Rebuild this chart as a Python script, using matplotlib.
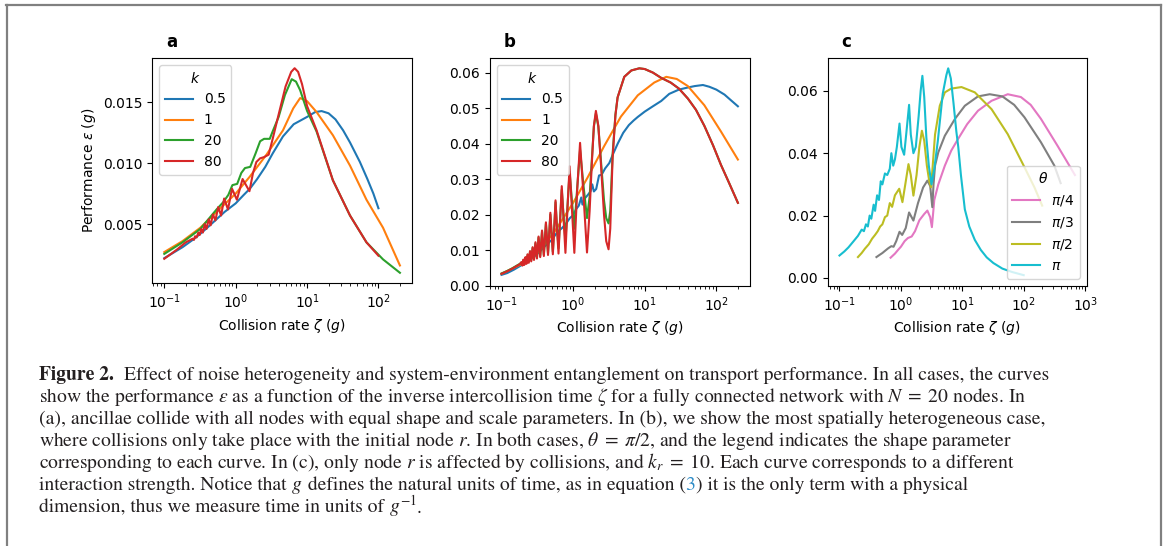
import matplotlib
matplotlib.use("Agg")
import matplotlib.pyplot as plt
from matplotlib.lines import Line2D

W, H = 1163, 546

# ---- panel a: all nodes collide, theta = pi/2 ----
A_BLUE_X = [0.1, 0.13, 0.18, 0.25, 0.32, 0.4, 0.54, 0.7, 1.0, 1.3, 1.58, 2.0, 2.6, 3.3, 4.6, 6.5,
            10, 13, 16, 20, 25, 32, 40, 55, 70, 85, 100]
A_BLUE_Y = [0.0022, 0.0026, 0.0031, 0.0037, 0.0042, 0.0047, 0.0054, 0.0060, 0.0067, 0.0074, 0.0079,
            0.0087, 0.0097, 0.0108, 0.0122, 0.0132, 0.0138, 0.0142, 0.01428, 0.0141, 0.0136, 0.0127,
            0.0117, 0.0101, 0.0087, 0.0075, 0.0063]
A_ORANGE_X = [0.1, 0.18, 0.32, 0.54, 1.0, 1.58, 2.7, 4.6, 6.4, 8.0, 10, 13.6, 23, 40, 68, 116, 200]
A_ORANGE_Y = [0.0027, 0.0036, 0.0047, 0.0060, 0.0075, 0.0089, 0.0107, 0.0127, 0.0145, 0.01535,
              0.0151, 0.0142, 0.0123, 0.0098, 0.0070, 0.0047, 0.0016]
A_GREEN_X = [0.1, 0.18, 0.32, 0.54, 0.67, 0.79, 0.9, 1.05, 1.2, 1.35, 1.6, 1.9, 2.2, 2.5, 3.0, 3.4,
             4.0, 4.9, 6.1, 7, 8, 10, 13.6, 23, 40, 68, 116, 200]
A_GREEN_Y = [0.00255, 0.0035, 0.0046, 0.0062, 0.0068, 0.0074, 0.0082, 0.0083, 0.0092, 0.0096,
             0.0097, 0.0108, 0.0118, 0.0120, 0.0120, 0.0128, 0.0138, 0.0156, 0.0169, 0.0167, 0.0160,
             0.0143, 0.0126, 0.0086, 0.0057, 0.0035, 0.0021, 0.0010]
A_RED_X = [0.1, 0.15, 0.2, 0.25, 0.26, 0.27, 0.284, 0.30, 0.3125, 0.33, 0.347, 0.37, 0.39, 0.42,
           0.446, 0.48, 0.52, 0.57, 0.625, 0.69, 0.78, 0.89, 1.04, 1.25, 1.56, 1.75, 1.95, 2.2,
           2.5, 2.9, 3.3, 4.0, 5.0, 6.0, 6.7, 7.5, 8.5, 10, 13.6, 23, 40, 68, 100]
A_RED_Y = [0.00215, 0.0029, 0.0035, 0.0038, 0.0037, 0.0040, 0.0039, 0.0043, 0.0041, 0.0046,
           0.0043, 0.0050, 0.0046, 0.0054, 0.0049, 0.0058, 0.0053, 0.0064, 0.0057, 0.0071, 0.0062,
           0.0079, 0.0070, 0.0087, 0.0077, 0.0092, 0.0101, 0.0104, 0.0105, 0.0107, 0.0120, 0.0140,
           0.0163, 0.0175, 0.0178, 0.0175, 0.0165, 0.0147, 0.0127, 0.0086, 0.0057, 0.0035, 0.0024]

# ---- panel b: collisions only at node r ----
B_BLUE_X = [0.1, 0.12, 0.15, 0.2, 0.25, 0.3, 0.35, 0.4, 0.5, 0.6, 0.7, 0.8, 0.9, 1.0, 1.1, 1.2,
            1.3, 1.35, 1.45, 1.6, 1.75, 1.85, 1.95, 2.1, 2.3, 2.5, 2.8, 3.2, 3.6, 4.2, 5, 6, 7, 8,
            10, 13, 17, 22, 30, 40, 50, 65, 80, 100, 130, 160, 200]
B_BLUE_Y = [0.0030, 0.0035, 0.0045, 0.0060, 0.0075, 0.0085, 0.0098, 0.0110, 0.0128, 0.0150,
            0.0162, 0.0175, 0.0190, 0.0198, 0.0215, 0.0225, 0.0248, 0.0228, 0.0245, 0.0255, 0.0265,
            0.0285, 0.0265, 0.0272, 0.0310, 0.0312, 0.0330, 0.0345, 0.0370, 0.0400, 0.0430, 0.0452,
            0.0465, 0.0475, 0.0490, 0.0505, 0.0520, 0.0540, 0.0552, 0.0558, 0.0562, 0.0565, 0.0560,
            0.0552, 0.0538, 0.0522, 0.0505]
B_ORANGE_X = [0.1, 0.18, 0.32, 0.54, 1.0, 1.58, 2.7, 4.65, 8.0, 13.6, 20, 28, 40, 68, 116, 200]
B_ORANGE_Y = [0.0033, 0.0058, 0.0093, 0.0149, 0.0233, 0.0303, 0.0392, 0.0476, 0.0536, 0.0572,
              0.0588, 0.0582, 0.0562, 0.0508, 0.0434, 0.0355]
B_OSC_X = [0.1, 0.12, 0.14, 0.16, 0.18, 0.19, 0.196, 0.202, 0.208, 0.216, 0.223, 0.231, 0.24,
           0.25, 0.26, 0.272, 0.284, 0.298, 0.3125, 0.329, 0.347, 0.368, 0.39, 0.417, 0.446, 0.481,
           0.521, 0.545, 0.568, 0.595, 0.625, 0.66, 0.694, 0.735, 0.781, 0.835, 0.893, 0.96, 1.04,
           1.14, 1.25, 1.39, 1.5625, 1.7, 1.82, 1.95, 2.08, 2.25, 2.45, 2.7, 2.9, 3.125, 3.3, 3.56,
           3.9, 4.18, 5.18, 6.5, 8.4, 10, 13, 17, 23, 30, 40, 52, 68, 90, 116, 150, 200]
B_RED_Y = [0.0033, 0.0040, 0.0047, 0.0054, 0.0060, 0.0066, 0.0056, 0.0073, 0.0058, 0.0080, 0.0061,
           0.0088, 0.0064, 0.0097, 0.0068, 0.0108, 0.0072, 0.0122, 0.0076, 0.0138, 0.0080, 0.0155,
           0.0083, 0.0178, 0.0086, 0.0205, 0.0088, 0.0160, 0.0240, 0.0160, 0.0090, 0.0190, 0.0280,
           0.0190, 0.0092, 0.0220, 0.0336, 0.0220, 0.0092, 0.0270, 0.0402, 0.0260, 0.0093, 0.0210,
           0.0340, 0.0450, 0.0492, 0.0450, 0.0340, 0.0200, 0.0125, 0.0102, 0.0160, 0.0360, 0.0480,
           0.0530, 0.0588, 0.0606, 0.0612, 0.0610, 0.0600, 0.0585, 0.0572, 0.0555, 0.0527, 0.0495,
           0.0450, 0.0395, 0.0340, 0.0290, 0.0233]
B_GREEN_Y = [0.0034, 0.0041, 0.0048, 0.0055, 0.0061, 0.0065, 0.0059, 0.0071, 0.0061, 0.0078,
             0.0064, 0.0086, 0.0067, 0.0095, 0.0071, 0.0106, 0.0075, 0.0119, 0.0079, 0.0135, 0.0083,
             0.0152, 0.0087, 0.0174, 0.0091, 0.0200, 0.0095, 0.0165, 0.0235, 0.0165, 0.0105, 0.0190,
             0.0270, 0.0195, 0.0125, 0.0225, 0.0320, 0.0240, 0.0160, 0.0275, 0.0382, 0.0285, 0.0190,
             0.0250, 0.0350, 0.0448, 0.0485, 0.0448, 0.0350, 0.0240, 0.0190, 0.0175, 0.0210, 0.0370,
             0.0482, 0.0530, 0.0588, 0.0606, 0.0612, 0.0610, 0.0600, 0.0585, 0.0572, 0.0555, 0.0527,
             0.0495, 0.0450, 0.0395, 0.0340, 0.0290, 0.0233]

# ---- panel c: only node r, k_r = 10, different theta ----
C_PINK_X = [0.68, 0.8, 0.9, 1.0, 1.15, 1.3, 1.5, 1.7, 2.0, 2.4, 2.7, 3.0, 3.2, 3.5, 4.07, 5.2,
            6.6, 8.5, 12, 18, 30, 55, 90, 130, 191, 355, 500, 683]
C_PINK_Y = [0.0065, 0.0078, 0.0090, 0.0100, 0.0118, 0.0128, 0.0133, 0.0150, 0.0185, 0.0205,
            0.0216, 0.0195, 0.0163, 0.0250, 0.0300, 0.0360, 0.0408, 0.0445, 0.0493, 0.0536,
            0.0568, 0.0589, 0.0580, 0.0555, 0.0510, 0.0424, 0.0375, 0.0330]
C_GRAY_X = [0.4, 0.45, 0.5, 0.56, 0.62, 0.7, 0.76, 0.84, 0.95, 1.05, 1.2, 1.36, 1.6, 1.9, 2.3,
            2.7, 3.0, 3.25, 3.4, 3.6, 4.07, 5.2, 7.6, 11, 18, 28, 45, 70, 103, 191, 316, 400]
C_GRAY_Y = [0.0067, 0.0074, 0.0080, 0.0088, 0.0095, 0.0102, 0.0100, 0.0118, 0.0148, 0.0138,
            0.0160, 0.0210, 0.0184, 0.0240, 0.0290, 0.0312, 0.0295, 0.0227, 0.0300, 0.0360,
            0.0403, 0.0456, 0.0510, 0.0552, 0.0582, 0.0589, 0.0582, 0.0555, 0.0515, 0.0435,
            0.0360, 0.0304]
C_OLIVE_X = [0.2, 0.23, 0.26, 0.30, 0.34, 0.38, 0.42, 0.46, 0.50, 0.55, 0.60, 0.66, 0.72, 0.80,
             0.94, 1.06, 1.18, 1.33, 1.45, 1.6, 1.8, 2.0, 2.2, 2.4, 2.65, 2.9, 3.1, 3.3, 3.6, 4.3,
             5.2, 6.6, 9.7, 16, 30, 55, 103, 150, 200]
C_OLIVE_Y = [0.0067, 0.0080, 0.0094, 0.0108, 0.0126, 0.0138, 0.0150, 0.0165, 0.0172, 0.0195,
             0.0200, 0.0240, 0.0228, 0.0265, 0.0286, 0.0243, 0.0300, 0.0365, 0.0330, 0.0264,
             0.0330, 0.0420, 0.0472, 0.0440, 0.0360, 0.0310, 0.0291, 0.0360, 0.0460, 0.0552,
             0.0595, 0.0607, 0.0612, 0.0595, 0.0541, 0.0461, 0.0355, 0.0290, 0.0232]
C_CYAN_X = [0.10, 0.12, 0.14, 0.17, 0.20, 0.23, 0.25, 0.27, 0.29, 0.31, 0.33, 0.36, 0.38, 0.41,
            0.44, 0.47, 0.50, 0.55, 0.60, 0.66, 0.70, 0.75, 0.80, 0.86, 0.95, 1.02, 1.13, 1.22,
            1.36, 1.45, 1.6, 1.75, 1.95, 2.1, 2.24, 2.4, 2.6, 2.85, 3.15, 3.5, 4.0, 4.8, 5.5, 5.9,
            6.5, 7.2, 8.0, 8.6, 9.5, 11, 13, 16, 20, 25, 32, 45, 65, 100]
C_CYAN_Y = [0.0072, 0.0085, 0.0098, 0.0118, 0.0135, 0.0155, 0.0150, 0.0172, 0.0165, 0.0200,
            0.0190, 0.0235, 0.0215, 0.0265, 0.0250, 0.0310, 0.0300, 0.0335, 0.0330, 0.0350,
            0.0400, 0.0360, 0.0380, 0.0420, 0.0495, 0.0420, 0.0395, 0.0460, 0.0555, 0.0460,
            0.0400, 0.0420, 0.0520, 0.0600, 0.0648, 0.0580, 0.0450, 0.0360, 0.0300, 0.0350,
            0.0440, 0.0590, 0.0650, 0.0672, 0.0640, 0.0560, 0.0470, 0.0420, 0.0330, 0.0220,
            0.0165, 0.0122, 0.0090, 0.0066, 0.0048, 0.0030, 0.0019, 0.0009]

K_LABELS = ["0.5", "1", "20", "80"]
THETA_LABELS = [r"$\pi/4$", r"$\pi/3$", r"$\pi/2$", r"$\pi$"]
K_COLORS = ["tab:blue", "tab:orange", "tab:green", "tab:red"]
THETA_COLORS = ["tab:pink", "tab:gray", "tab:olive", "tab:cyan"]

CAPTION = [
    [("Figure 2.", "bold"), 10, ("Effect of noise heterogeneity and system-environment entanglement "
                                 "on transport performance. In all cases, the curves", None)],
    [(r"show the performance $\varepsilon$ as a function of the inverse intercollision time $\zeta$ "
      r"for a fully connected network with $N\;=\;20$ nodes. In", None)],
    [("(a), ancillae collide with all nodes with equal shape and scale parameters. In (b), we show "
      "the most spatially heterogeneous case,", None)],
    [(r"where collisions only take place with the initial node $r$. In both cases, $\theta\;=\;\pi/2$, "
      r"and the legend indicates the shape parameter", None)],
    [(r"corresponding to each curve. In (c), only node $r$ is affected by collisions, and $k_r\;=\;10$. "
      r"Each curve corresponds to a different", None)],
    [("interaction strength. Notice that", None), 4.9, (r"$g$", None),
     (" defines the natural units of time, as in equation (", None),
     ("3", "link"), (") it is the only term with a physical", None)],
    [("dimension, thus we measure time in units of", None), 4.9, (r"$g^{-1}$", None), (".", None)],
]


def add_px_axes(fig, left, top, right, bottom):
    return fig.add_axes([left / W, 1 - bottom / H, (right - left) / W, (bottom - top) / H])


fig = plt.figure(figsize=(W / 100, H / 100), dpi=100)

ax_a = add_px_axes(fig, 152.5, 58, 411.7, 283)
ax_b = add_px_axes(fig, 489.7, 58, 749.7, 285.5)
ax_c = add_px_axes(fig, 827.7, 58, 1086.7, 285.5)

a_series = [(A_BLUE_X, A_BLUE_Y), (A_ORANGE_X, A_ORANGE_Y), (A_GREEN_X, A_GREEN_Y), (A_RED_X, A_RED_Y)]
for (xs, ys), lbl, col in zip(a_series, K_LABELS, K_COLORS):
    ax_a.plot(xs, ys, color=col, label=lbl)

b_series = [(B_BLUE_X, B_BLUE_Y), (B_ORANGE_X, B_ORANGE_Y), (B_OSC_X, B_GREEN_Y), (B_OSC_X, B_RED_Y)]
for (xs, ys), lbl, col in zip(b_series, K_LABELS, K_COLORS):
    ax_b.plot(xs, ys, color=col, label=lbl)
ax_b.set_ylim(bottom=0)

c_series = [(C_PINK_X, C_PINK_Y), (C_GRAY_X, C_GRAY_Y), (C_OLIVE_X, C_OLIVE_Y), (C_CYAN_X, C_CYAN_Y)]
for (xs, ys), lbl, col in zip(c_series, THETA_LABELS, THETA_COLORS):
    ax_c.plot(xs, ys, color=col, label=lbl)

for ax, letter in [(ax_a, "a"), (ax_b, "b"), (ax_c, "c")]:
    ax.set_xscale("log")
    ax.set_xlabel(r"Collision rate $\zeta$ ($g$)")
    ax.text(14 / 260, 1 + 11 / 228, letter, transform=ax.transAxes, fontsize=12,
            fontweight="bold", ha="left", va="baseline")

ax_a.set_yticks([0.005, 0.010, 0.015])
ax_a.set_ylabel(r"Performance $\varepsilon$ ($g$)")
ax_b.set_yticks([0.0, 0.01, 0.02, 0.03, 0.04, 0.05, 0.06])
ax_c.set_yticks([0.0, 0.02, 0.04, 0.06])

ax_a.legend(title=r"$k$", loc="upper left")
ax_b.legend(title=r"$k$", loc="upper left")
ax_c.legend(title=r"$\theta$", loc="lower right")

# frame around the figure + caption
gray = "#808080"
fig.add_artist(Line2D([7 / W, 7 / W], [0, 1 - 5 / H], color=gray, lw=1.6))
fig.add_artist(Line2D([6 / W, 1160.5 / W], [1 - 5 / H, 1 - 5 / H], color=gray, lw=1.6))
fig.add_artist(Line2D([1160.5 / W, 1160.5 / W], [0, 1 - 5 / H], color=gray, lw=1.6))

renderer = fig.canvas.get_renderer()
cap_size = 14.1
for i, line in enumerate(CAPTION):
    x = 39.0
    y = 380 + i * 22.1
    for piece in line:
        if isinstance(piece, (int, float)):
            x += piece
            continue
        s, style = piece
        t = fig.text(x / W, 1 - y / H, s, fontsize=cap_size, family="STIXGeneral",
                     math_fontfamily="stix", ha="left", va="baseline",
                     fontweight="bold" if style == "bold" else "normal",
                     color="#2a8ac6" if style == "link" else "#231f20")
        bb = t.get_window_extent(renderer=renderer)
        x = bb.x1

fig.savefig("out.png", dpi=100)
